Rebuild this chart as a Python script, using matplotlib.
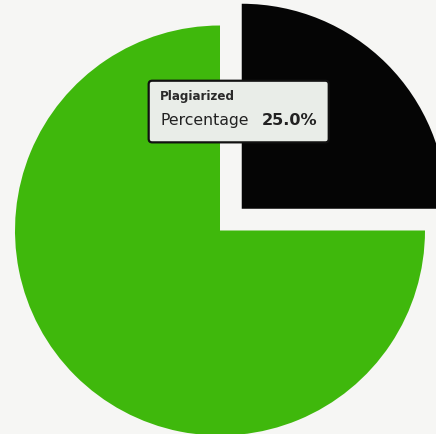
import matplotlib
matplotlib.use("Agg")
import matplotlib.pyplot as plt
from matplotlib.patches import FancyBboxPatch

# pie data
labels = ["Plagiarized", "Original"]
values = [25.0, 75.0]
slice_colors = ["#050505", "#3fb80c"]
explode = [0.15, 0.0]

fig = plt.figure(figsize=(4.36, 4.34), dpi=100)
fig.patch.set_facecolor("#f6f6f4")
ax = fig.add_axes([0, 0, 1, 1])
ax.set_facecolor("#f6f6f4")

ax.pie(values, labels=None, colors=slice_colors, explode=explode,
       startangle=90, counterclock=False, radius=1.0,
       wedgeprops=dict(linewidth=0))

# keep the exploded slice cut off at the right edge like the screenshot
r_px = 205.0
cx, cy = 220.0, 434.0 - 230.5
ax.set_xlim(-cx / r_px, (436 - cx) / r_px)
ax.set_ylim(-cy / r_px, (434 - cy) / r_px)
ax.set_aspect("auto")
ax.axis("off")

# tooltip
box = FancyBboxPatch((0.341, 0.672), 0.413, 0.142,
                     boxstyle="round,pad=0,rounding_size=0.008",
                     transform=fig.transFigure, facecolor="#e9ede8",
                     edgecolor="#111111", linewidth=1.6, zorder=5)
fig.patches.append(box)

pct = values[0] / sum(values) * 100
fig.text(0.367, 0.777, labels[0], fontsize=8.6, fontweight="bold",
         color="#2a2a2a", va="center", ha="left", zorder=6)
fig.text(0.367, 0.723, "Percentage", fontsize=11.3,
         color="#222222", va="center", ha="left", zorder=6)
fig.text(0.600, 0.723, f"{pct:.1f}%", fontsize=11.6, fontweight="bold",
         color="#222222", va="center", ha="left", zorder=6)

fig.savefig("out.png", dpi=100, facecolor=fig.get_facecolor())
